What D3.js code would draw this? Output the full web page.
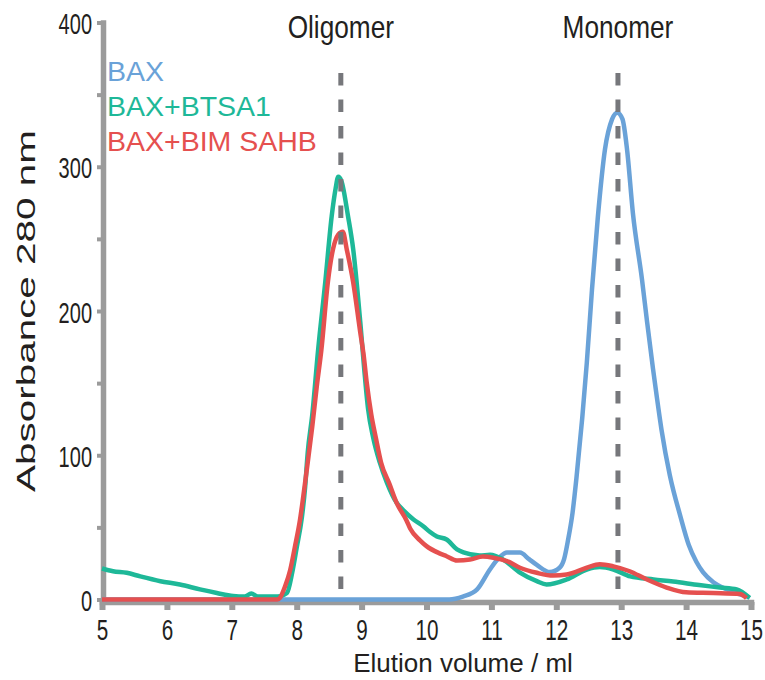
<!DOCTYPE html>
<html>
<head>
<meta charset="utf-8">
<script src="https://cdn.jsdelivr.net/npm/d3@7"></script>
<style>
  body { margin: 0; background: #fff; }
  svg { display: block; }
</style>
</head>
<body>
<div class="main-container"></div>
<script>
// elution volume (ml) / absorbance 280 nm
const baxVol = [5.0, 10.35, 10.56, 10.78, 10.98, 11.12, 11.24, 11.44, 11.58, 11.70, 11.90, 12.05, 12.12, 12.18, 12.25, 12.31, 12.40, 12.47, 12.55, 12.64, 12.75, 12.86, 12.94, 13.02, 13.09, 13.18, 13.32, 13.40, 13.49, 13.55, 13.62, 13.75, 13.91, 14.04, 14.16, 14.26, 14.42, 14.63, 14.83, 14.98];
const baxAbs = [0, 0, 2, 7, 21, 29, 32.5, 32.5, 28, 24, 19, 22, 28, 41, 60, 84, 126, 164, 215, 265, 312, 333, 337.5, 333, 312, 268, 222, 192, 160, 140, 118, 86, 58, 38, 26, 19, 12, 7, 3.5, 1.5];

const btsaVol = [5.0, 5.17, 5.38, 5.59, 5.9, 6.2, 6.51, 6.77, 7.02, 7.2, 7.3, 7.4, 7.7, 7.85, 7.93, 8.0, 8.08, 8.13, 8.17, 8.24, 8.33, 8.44, 8.54, 8.60, 8.64, 8.69, 8.79, 8.87, 8.98, 9.04, 9.10, 9.18, 9.28, 9.39, 9.54, 9.64, 9.80, 9.95, 10.05, 10.16, 10.31, 10.47, 10.57, 10.82, 10.98, 11.18, 11.44, 11.70, 11.85, 12.16, 12.47, 12.67, 12.88, 13.14, 13.5, 13.8, 14.2, 14.52, 14.78, 14.98];
const btsaAbs = [21.5, 19.6, 18.5, 16, 12.7, 10.4, 7, 4.5, 2.4, 2, 4.2, 2, 2, 4.5, 18.5, 36, 57, 78, 102, 128, 173, 220, 266, 285, 293, 290, 266, 243, 192, 160, 132, 112, 95, 81, 67, 62, 55.5, 50.8, 47, 43.7, 41.6, 34.7, 32.6, 30.5, 31, 27.7, 18.7, 12.7, 10.4, 13.9, 20.8, 22.5, 20.8, 16, 13.9, 12.5, 10, 8.3, 6.9, 1];

const bimVol = [5.0, 7.70, 7.74, 7.82, 7.90, 7.97, 8.05, 8.10, 8.17, 8.24, 8.31, 8.38, 8.48, 8.56, 8.64, 8.71, 8.77, 8.87, 8.98, 9.03, 9.08, 9.15, 9.22, 9.30, 9.43, 9.54, 9.69, 9.75, 9.90, 10.0, 10.2, 10.31, 10.47, 10.67, 10.87, 11.03, 11.24, 11.44, 11.70, 11.95, 12.16, 12.47, 12.67, 12.88, 13.13, 13.39, 13.7, 14.0, 14.42, 14.83, 14.93];
const bimAbs = [0, 0, 1, 9, 20.5, 36, 55, 71, 95, 120, 148, 173, 220, 243, 253, 255, 243, 220, 185, 170, 150, 128, 112, 95, 80, 67, 55, 49, 41, 37, 32, 30, 27, 27.7, 29.8, 29, 26.6, 22, 18.5, 16.6, 17.3, 22, 24.5, 23, 19.6, 14, 8.3, 5, 4.5, 3.8, 1];

const seriesNames = ["BAX", "BAX+BTSA1", "BAX+BIM SAHB"];
const seriesColors = ["#6aa2d8", "#1eb898", "#e5504f"];
const markerVol = [8.68, 12.95];
const markerNames = ["Oligomer", "Monomer"];
const xTicks = [5, 6, 7, 8, 9, 10, 11, 12, 13, 14, 15];
const yTicks = [0, 50, 100, 150, 200, 250, 300, 350, 400];

const width = 765;
const height = 680;
const axisGrey = "#9b9b9b";
const ink = "#231f20";
const sans = "'Liberation Sans', Arial, Helvetica, sans-serif";
const tickSquash = 0.69;   // condensed tick numerals
const titleSquash = 0.82;  // condensed peak labels

const svg = d3.select(".main-container")
    .append("svg")
    .attr("width", width)
    .attr("height", height);

const x = d3.scaleLinear().domain([5, 15]).range([102, 751]);
const y = d3.scaleLinear().domain([0, 400]).range([599.5, 22.5]);

// x axis
const gx = svg.append("g")
    .attr("transform", "translate(0,602)")
    .call(d3.axisBottom(x).tickValues(xTicks).tickSize(8).tickSizeOuter(0));
gx.select(".domain").attr("stroke", axisGrey).attr("stroke-width", 5.5).attr("stroke-linecap", "square");
gx.selectAll(".tick line").attr("stroke", axisGrey).attr("stroke-width", 6);
gx.selectAll(".tick text")
    .attr("y", 38).attr("dy", null)
    .attr("transform", `scale(${tickSquash},1)`)
    .style("font-family", sans).style("font-size", "30px").attr("fill", ink);

// y axis
const gy = svg.append("g")
    .attr("transform", "translate(103,0)")
    .call(d3.axisLeft(y).tickValues(yTicks).tickSize(6).tickSizeOuter(0)
        .tickFormat(d => d % 100 === 0 ? d : ""));
gy.select(".domain").attr("stroke", axisGrey).attr("stroke-width", 5.5).attr("stroke-linecap", "square");
gy.selectAll(".tick line").attr("stroke", axisGrey).attr("stroke-width", 4);
gy.selectAll(".tick text")
    .attr("x", -11 / tickSquash).attr("dy", 11)
    .attr("transform", `scale(${tickSquash},1)`)
    .style("font-family", sans).style("font-size", "29px").attr("fill", ink);

// axis titles
svg.append("text")
    .attr("x", 463).attr("y", 672)
    .attr("text-anchor", "middle")
    .style("font-family", sans).style("font-size", "26px").attr("fill", ink)
    .text("Elution volume / ml");

svg.append("text")
    .attr("transform", "translate(35,311) rotate(-90)")
    .attr("text-anchor", "middle")
    .attr("textLength", 362).attr("lengthAdjust", "spacingAndGlyphs")
    .style("font-family", sans).style("font-size", "25px").attr("fill", ink)
    .text("Absorbance 280 nm");

// traces
const line = d3.line()
    .x(d => x(d[0]))
    .y(d => y(d[1]))
    .curve(d3.curveMonotoneX);

const traces = [
    d3.zip(baxVol, baxAbs),
    d3.zip(btsaVol, btsaAbs),
    d3.zip(bimVol, bimAbs)
];

svg.selectAll("path.trace")
    .data(traces)
    .enter()
    .append("path")
    .attr("class", "trace")
    .attr("d", line)
    .attr("fill", "none")
    .attr("stroke", (d, i) => seriesColors[i])
    .attr("stroke-width", 4.5)
    .attr("stroke-linejoin", "round");

// legend
svg.selectAll("text.legend")
    .data(seriesNames)
    .enter()
    .append("text")
    .attr("class", "legend")
    .attr("x", 107)
    .attr("y", (d, i) => 81 + i * 35)
    .style("font-family", sans).style("font-size", "28.5px")
    .attr("fill", (d, i) => seriesColors[i])
    .text(d => d);

// peak markers
svg.selectAll("line.marker")
    .data(markerVol)
    .enter()
    .append("line")
    .attr("class", "marker")
    .attr("x1", d => x(d)).attr("x2", d => x(d))
    .attr("y1", y(365)).attr("y2", y(0))
    .attr("stroke", "#76777b")
    .attr("stroke-width", 5)
    .attr("stroke-dasharray", "12.5,14");

svg.selectAll("text.marker")
    .data(markerNames)
    .enter()
    .append("text")
    .attr("class", "marker")
    .attr("transform", (d, i) => `translate(${x(markerVol[i])},38) scale(${titleSquash},1)`)
    .attr("text-anchor", "middle")
    .style("font-family", sans).style("font-size", "32px").attr("fill", ink)
    .text(d => d);
</script>
</body>
</html>
